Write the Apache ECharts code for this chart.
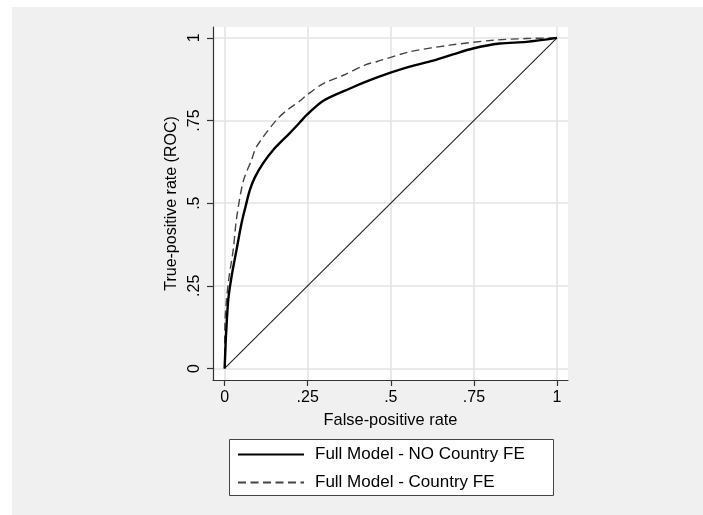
<!DOCTYPE html>
<html>
<head>
<meta charset="utf-8">
<script src="https://cdn.jsdelivr.net/npm/echarts@6/dist/echarts.min.js"></script>
<style>
    html, body { margin: 0; padding: 0; background: #fff; }
    #chart { width: 703px; height: 515px; }
</style>
</head>
<body>
<div id="chart"></div>
<script>
// ROC points
const fprNoFE = [0, 0.002, 0.004, 0.011, 0.021, 0.036, 0.051, 0.063, 0.076, 0.091, 0.116, 0.146, 0.196, 0.226, 0.247, 0.297, 0.377, 0.437, 0.497, 0.557, 0.627, 0.687, 0.747, 0.828, 0.908, 1];
const tprNoFE = [0, 0.05, 0.098, 0.209, 0.279, 0.36, 0.44, 0.49, 0.54, 0.578, 0.621, 0.661, 0.712, 0.744, 0.767, 0.81, 0.847, 0.872, 0.894, 0.913, 0.931, 0.95, 0.968, 0.983, 0.988, 1];
const fprFE = [0, 0.001, 0.011, 0.026, 0.036, 0.056, 0.081, 0.096, 0.156, 0.19, 0.226, 0.247, 0.297, 0.357, 0.427, 0.457, 0.557, 0.677, 0.808, 0.908, 1];
const tprFE = [0, 0.139, 0.259, 0.36, 0.455, 0.566, 0.631, 0.671, 0.752, 0.783, 0.809, 0.827, 0.862, 0.887, 0.92, 0.928, 0.958, 0.978, 0.993, 0.998, 1];
const refLine = [[0, 0], [1, 1]];
const tickValues = [0, 0.25, 0.5, 0.75, 1];
const seriesNames = ["Full Model - NO Country FE", "Full Model - Country FE"];

const zip = (xs, ys) => xs.map((x, i) => [x, ys[i]]);
const tickLabel = (v) => (v === 0 || v === 1 ? String(v) : String(v).replace(/^0/, ""));

const font = "Liberation Sans, Arial, Helvetica, sans-serif";

const axisBase = {
    type: "value",
    min: -0.035,
    max: 1.033,
    axisLine: { show: true, onZero: false, lineStyle: { color: "#333", width: 1.2 } },
    axisTick: {
        show: true,
        customValues: tickValues,
        length: 6,
        lineStyle: { color: "#333", width: 1.2 },
    },
    axisLabel: {
        customValues: tickValues,
        formatter: tickLabel,
        color: "#000",
        fontSize: 16,
        fontFamily: font,
    },
    splitLine: { show: true, lineStyle: { color: "#e4e4e4", width: 1.6 } },
    nameLocation: "middle",
    nameTextStyle: { color: "#000", fontSize: 16, fontFamily: font },
};

const option = {
    animation: false,
    backgroundColor: "#fff",
    graphic: [
        {
            type: "rect",
            z: -10,
            shape: { x: 12, y: 7, width: 703, height: 515 },
            style: { fill: "#f0f0f0" },
        },
        {
            type: "rect",
            z: 10,
            shape: { x: 229.5, y: 439.5, width: 324, height: 56 },
            style: { fill: "#fff", stroke: "#444", lineWidth: 1 },
        },
    ],
    grid: {
        left: 213,
        top: 27,
        width: 355,
        height: 353,
        show: true,
        backgroundColor: "#fff",
        borderWidth: 0,
    },
    legend: {
        data: seriesNames,
        orient: "vertical",
        left: 232,
        top: 441,
        z: 20,
        itemWidth: 66,
        itemHeight: 12,
        itemGap: 11,
        itemStyle: { opacity: 0 },
        textStyle: { color: "#000", fontSize: 17, fontFamily: font, padding: [0, 0, 0, 6] },
    },
    xAxis: {
        ...axisBase,
        name: "False-positive rate",
        nameGap: 32,
        nameTextStyle: { ...axisBase.nameTextStyle, fontSize: 16.4 },
        axisLabel: { ...axisBase.axisLabel, margin: 10 },
    },
    yAxis: {
        ...axisBase,
        name: "True-positive rate (ROC)",
        nameGap: 32,
        axisLabel: { ...axisBase.axisLabel, rotate: 90, margin: 10 },
    },
    series: [
        {
            name: seriesNames[0],
            type: "line",
            data: zip(fprNoFE, tprNoFE),
            symbol: "none",
            smooth: 0.3,
            lineStyle: { color: "#000", width: 2.4 },
            itemStyle: { color: "#000" },
            z: 3,
        },
        {
            name: seriesNames[1],
            type: "line",
            data: zip(fprFE, tprFE),
            symbol: "none",
            smooth: 0.3,
            lineStyle: { color: "#444", width: 1.4, type: [8, 4.5] },
            itemStyle: { color: "#444" },
            z: 2,
        },
        {
            name: "reference",
            type: "line",
            data: refLine,
            symbol: "none",
            lineStyle: { color: "#222", width: 1.1 },
            z: 1,
        },
    ],
};

const chart = echarts.init(document.getElementById("chart"));
chart.setOption(option);
</script>
</body>
</html>
